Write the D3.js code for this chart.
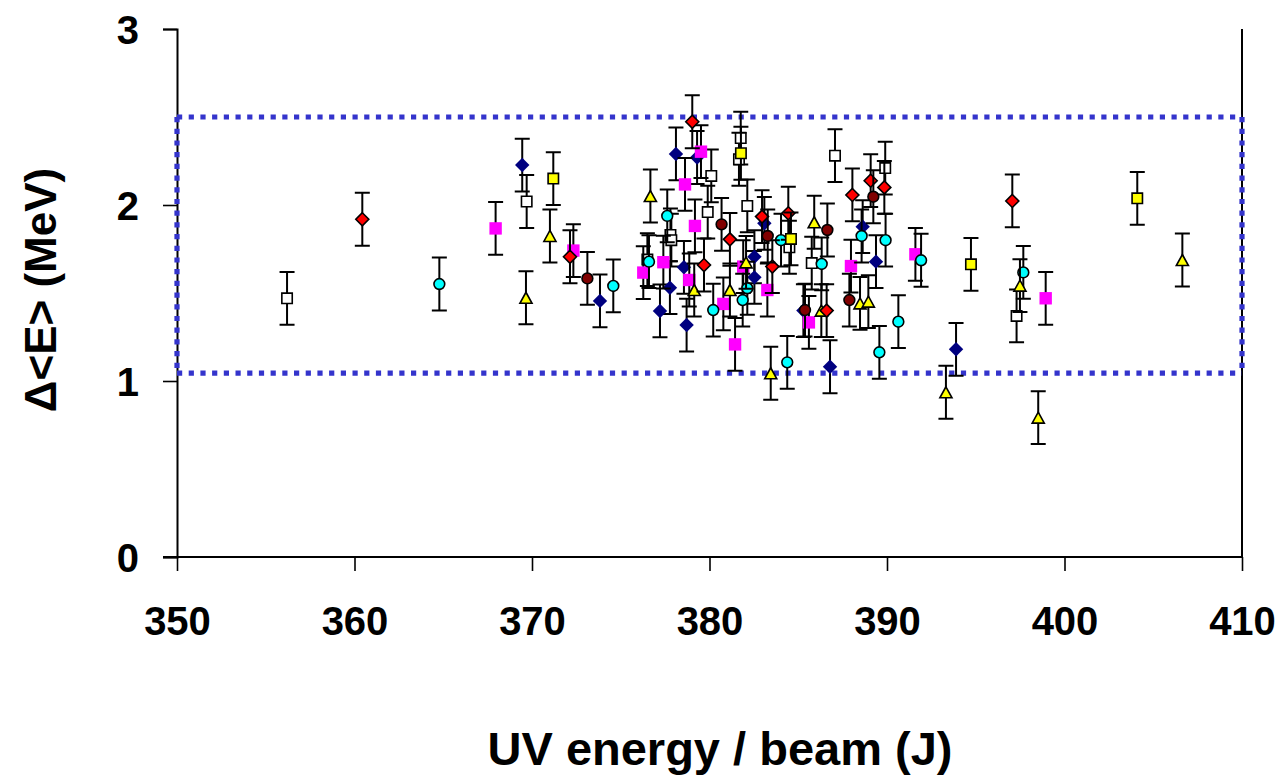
<!DOCTYPE html>
<html>
<head>
<meta charset="utf-8">
<script src="https://cdn.jsdelivr.net/npm/d3@7"></script>
<style>
  html, body { margin: 0; padding: 0; background: #fff; }
  svg { display: block; font-family: "Liberation Sans", Arial, sans-serif; font-weight: bold; }
</style>
</head>
<body>
<svg id="chart" width="1281" height="778"></svg>
<script>
// Axis ticks
const xTicks = [350, 360, 370, 380, 390, 400, 410];
const yTicks = [0, 1, 2, 3];

// Half-width of each error bar (MeV)
const errHalf = 0.15;

// Band limits shown by the dotted rectangle
const bandLow = 1.045;
const bandHigh = 2.5;

// Series values: UV energy per beam (J) and Δ<E> (MeV)
const openSquareX = [356.2, 369.7, 376.5, 377.8, 377.85, 379.9, 380.1, 381.66, 381.76, 382.13, 384.5, 385.76, 387.07, 389.9, 397.3];
const openSquareY = [1.47, 2.02, 1.69, 1.83, 1.80, 1.96, 2.165, 2.26, 2.38, 1.995, 1.76, 1.67, 2.28, 2.21, 1.37];

const navyDiamondX = [369.45, 373.83, 377.21, 377.77, 378.11, 378.56, 378.71, 379.3, 382.53, 382.53, 383.09, 385.29, 386.79, 388.63, 389.38, 393.89];
const navyDiamondY = [2.227, 1.455, 1.398, 1.53, 2.29, 1.646, 1.318, 2.27, 1.706, 1.589, 1.896, 1.40, 1.081, 1.877, 1.678, 1.18];

const magentaSquareX = [367.95, 372.33, 376.27, 377.4, 378.62, 378.86, 379.18, 379.52, 380.78, 381.44, 381.9, 383.26, 385.6, 387.97, 391.6, 398.94];
const magentaSquareY = [1.867, 1.741, 1.616, 1.675, 2.117, 1.574, 1.881, 2.303, 1.438, 1.208, 1.65, 1.517, 1.333, 1.653, 1.72, 1.47];

const cyanCircleX = [364.78, 374.58, 376.59, 377.62, 380.21, 381.87, 382.13, 384.03, 384.38, 386.32, 388.57, 389.57, 389.92, 390.64, 391.92, 397.68];
const cyanCircleY = [1.551, 1.54, 1.678, 1.938, 1.403, 1.46, 1.527, 1.80, 1.106, 1.665, 1.824, 1.163, 1.80, 1.337, 1.686, 1.617];

const yellowTriangleX = [369.66, 371.01, 376.67, 379.14, 381.15, 382.06, 383.45, 385.9, 386.3, 388.48, 388.95, 393.32, 397.49, 398.52, 406.64];
const yellowTriangleY = [1.473, 1.824, 2.051, 1.517, 1.517, 1.674, 1.044, 1.902, 1.40, 1.441, 1.451, 0.936, 1.542, 0.792, 1.6875];

const redDiamondX = [360.44, 372.14, 379.03, 379.69, 381.15, 382.96, 383.54, 384.44, 386.6, 388.05, 389.08, 389.85, 397.06];
const redDiamondY = [1.919, 1.706, 2.473, 1.659, 1.805, 1.934, 1.65, 1.953, 1.40, 2.057, 2.138, 2.10, 2.023];

const maroonCircleX = [373.12, 380.68, 383.28, 385.38, 386.64, 387.88, 389.23];
const maroonCircleY = [1.583, 1.89, 1.824, 1.403, 1.858, 1.46, 2.047];

const yellowSquareX = [371.2, 381.77, 384.59, 394.73, 404.1];
const yellowSquareY = [2.15, 2.294, 1.807, 1.663, 2.038];

// Layout
const plot = { left: 177, right: 1242, top: 29, bottom: 557 };
const svg = d3.select("#chart");

const x = d3.scaleLinear().domain([350, 410]).range([plot.left, plot.right]);
const y = d3.scaleLinear().domain([0, 3]).range([plot.bottom, plot.top]);

// Marker shapes (centred on the data point)
const shapes = {
  square: s => `M${-s},${-s}H${s}V${s}H${-s}Z`,
  diamond: s => `M0,${-s}L${s},0L0,${s}L${-s},0Z`,
  circle: s => `M${s},0A${s},${s} 0 1,1 ${-s},0A${s},${s} 0 1,1 ${s},0Z`,
  triangle: s => `M0,${-s}L${s * 1.1},${s}L${-s * 1.1},${s}Z`
};

const series = [
  { xs: openSquareX, ys: openSquareY, shape: "square", size: 5.2, fill: "#ffffff", stroke: "#000" },
  { xs: navyDiamondX, ys: navyDiamondY, shape: "diamond", size: 7.2, fill: "#000080", stroke: "none" },
  { xs: magentaSquareX, ys: magentaSquareY, shape: "square", size: 6.2, fill: "#ff00ff", stroke: "none" },
  { xs: cyanCircleX, ys: cyanCircleY, shape: "circle", size: 5.4, fill: "#00ffff", stroke: "#000" },
  { xs: yellowTriangleX, ys: yellowTriangleY, shape: "triangle", size: 5.5, fill: "#ffff00", stroke: "#000" },
  { xs: redDiamondX, ys: redDiamondY, shape: "diamond", size: 6.5, fill: "#ff0000", stroke: "#000" },
  { xs: maroonCircleX, ys: maroonCircleY, shape: "circle", size: 5.4, fill: "#800000", stroke: "#000" },
  { xs: yellowSquareX, ys: yellowSquareY, shape: "square", size: 5.2, fill: "#ffff00", stroke: "#000" }
];

// Right-hand frame line
svg.append("line")
  .attr("x1", x(410)).attr("x2", x(410))
  .attr("y1", y(3)).attr("y2", y(0))
  .attr("stroke", "#000").attr("stroke-width", 2);

// Axes
const yAxis = svg.append("g")
  .attr("transform", `translate(${plot.left},0)`)
  .call(d3.axisLeft(y).tickValues(yTicks).tickFormat(d3.format("d")).tickSize(14).tickPadding(24));
const xAxis = svg.append("g")
  .attr("transform", `translate(0,${plot.bottom})`)
  .call(d3.axisBottom(x).tickValues(xTicks).tickFormat(d3.format("d")).tickSize(14).tickPadding(36));

[yAxis, xAxis].forEach(g => {
  g.select(".domain").attr("stroke", "#000").attr("stroke-width", 2);
  g.selectAll(".tick line").attr("stroke", "#000").attr("stroke-width", 1.6);
  g.selectAll(".tick text")
    .attr("fill", "#000")
    .style("font-size", "40px")
    .style("font-weight", "bold")
    .style("font-family", '"Liberation Sans", Arial, sans-serif');
});
yAxis.selectAll(".tick text").attr("dy", "0.36em");
// extend x axis line leftward to meet the y tick at zero
xAxis.select(".domain").attr("d", `M${plot.left - 14},0H${plot.right}`);

// Dotted band
const band = svg.append("g")
  .attr("fill", "none")
  .attr("stroke", "#3434cc")
  .attr("stroke-width", 5.2)
  .attr("stroke-dasharray", "5.2 6.5");
band.append("path")
  .attr("d", `M${x(350)},${y(bandHigh)}H${x(410)}`);
band.append("path")
  .attr("d", `M${x(350)},${y(bandLow)}H${x(410)}`);
band.append("path")
  .attr("d", `M${x(350)},${y(bandHigh)}V${y(bandLow)}`);
band.append("path")
  .attr("d", `M${x(410)},${y(bandHigh)}V${y(bandLow)}`);

// Data: error bars then markers, series by series
const capHalf = 7.5;
series.forEach(s => {
  const pts = s.xs.map((v, i) => ({ x: v, y: s.ys[i] }));
  const g = svg.append("g");
  const eb = g.append("g").attr("stroke", "#000").attr("stroke-width", 2).attr("fill", "none");
  eb.selectAll("path").data(pts).enter().append("path")
    .attr("d", d => {
      const cx = x(d.x), y1 = y(d.y + errHalf), y2 = y(d.y - errHalf);
      return `M${cx},${y1}V${y2}M${cx - capHalf},${y1}H${cx + capHalf}M${cx - capHalf},${y2}H${cx + capHalf}`;
    });
  g.append("g").selectAll("path").data(pts).enter().append("path")
    .attr("transform", d => `translate(${x(d.x)},${y(d.y)})`)
    .attr("d", shapes[s.shape](s.size))
    .attr("fill", s.fill)
    .attr("stroke", s.stroke)
    .attr("stroke-width", s.stroke === "none" ? 0 : 1.6);
});

// Axis titles
svg.append("text")
  .attr("x", 720).attr("y", 765)
  .attr("text-anchor", "middle")
  .style("font-size", "47px")
  .text("UV energy / beam (J)");

svg.append("text")
  .attr("transform", "translate(56,290) rotate(-90)")
  .attr("text-anchor", "middle")
  .style("font-size", "44px")
  .text("Δ<E> (MeV)");
</script>
</body>
</html>
